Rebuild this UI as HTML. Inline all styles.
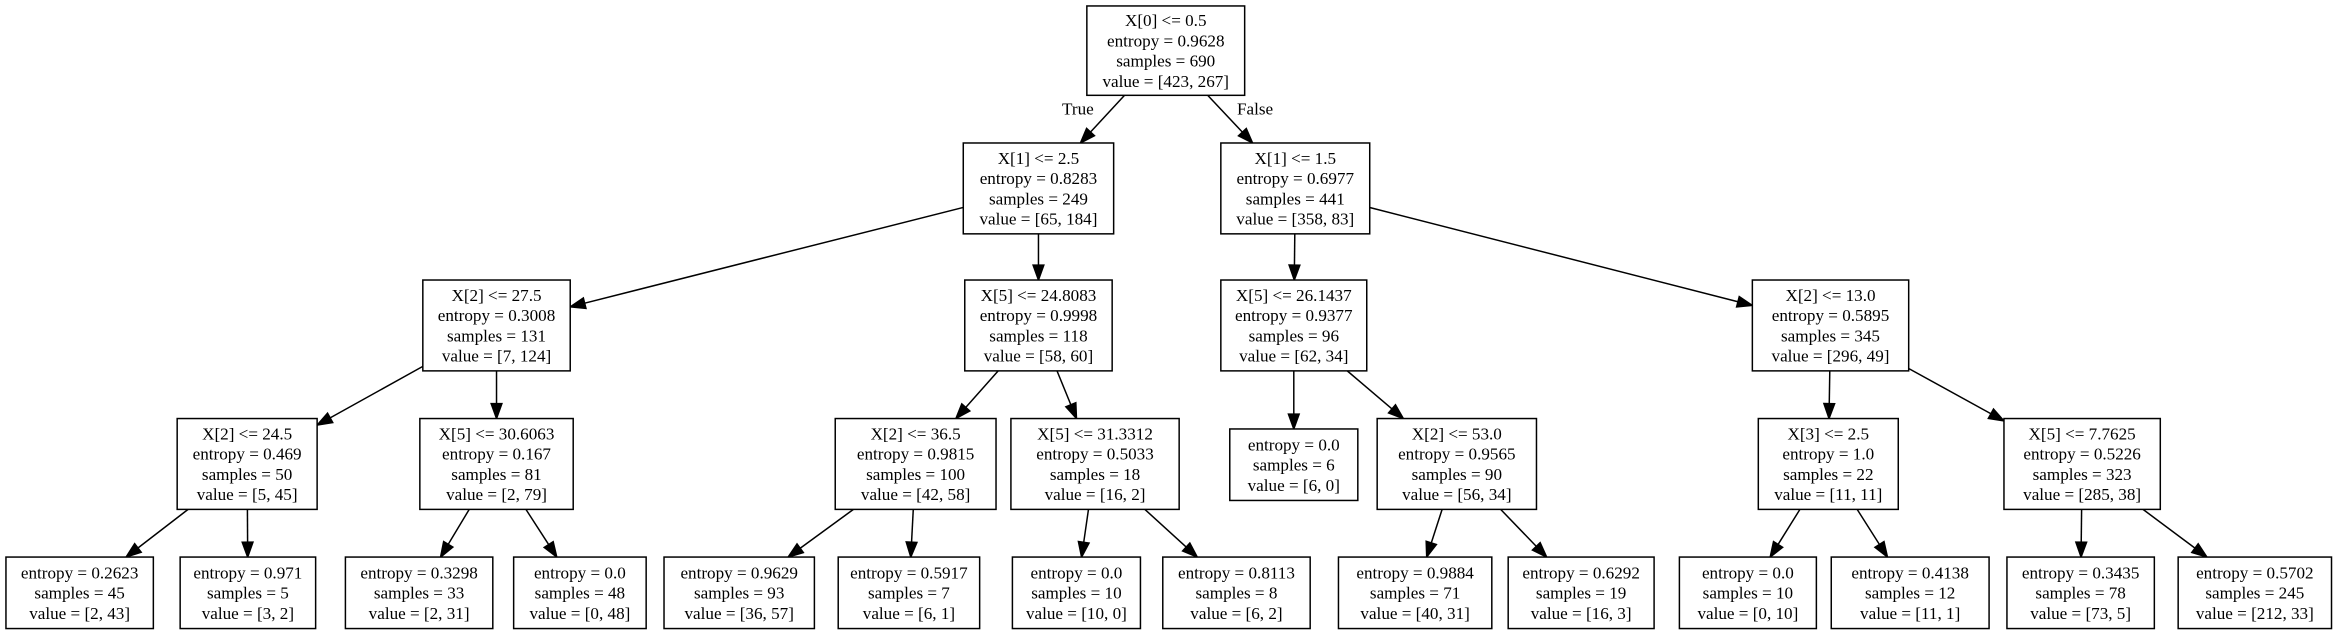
<!DOCTYPE html>
<html><head><meta charset="utf-8"><style>
html,body{margin:0;padding:0;background:#fff;width:2333px;height:636px;overflow:hidden}
svg{display:block}
text{font-family:"Liberation Serif",serif;font-size:11.5px;fill:#000}
</style></head><body>
<svg id="s" width="2333" height="636" viewBox="0 0 1567 427" preserveAspectRatio="none" xmlns="http://www.w3.org/2000/svg"></svg>
<script>
var N={
r:[730,836,4,64,["X[0] <= 0.5","entropy = 0.9628","samples = 690","value = [423, 267]"]],
a:[647,748,96,157,["X[1] <= 2.5","entropy = 0.8283","samples = 249","value = [65, 184]"]],
b:[820,920,96,157,["X[1] <= 1.5","entropy = 0.6977","samples = 441","value = [358, 83]"]],
a1:[284,383,188,249,["X[2] <= 27.5","entropy = 0.3008","samples = 131","value = [7, 124]"]],
a2:[648,747,188,249,["X[5] <= 24.8083","entropy = 0.9998","samples = 118","value = [58, 60]"]],
b1:[820,918,188,249,["X[5] <= 26.1437","entropy = 0.9377","samples = 96","value = [62, 34]"]],
b2:[1177,1282,188,249,["X[2] <= 13.0","entropy = 0.5895","samples = 345","value = [296, 49]"]],
c1:[119,213,281,342,["X[2] <= 24.5","entropy = 0.469","samples = 50","value = [5, 45]"]],
c2:[282,385,281,342,["X[5] <= 30.6063","entropy = 0.167","samples = 81","value = [2, 79]"]],
c3:[561,669,281,342,["X[2] <= 36.5","entropy = 0.9815","samples = 100","value = [42, 58]"]],
c4:[679,792,281,342,["X[5] <= 31.3312","entropy = 0.5033","samples = 18","value = [16, 2]"]],
c5:[826,912,288,336,["entropy = 0.0","samples = 6","value = [6, 0]"]],
c6:[925,1032,281,342,["X[2] <= 53.0","entropy = 0.9565","samples = 90","value = [56, 34]"]],
c7:[1181,1275,281,342,["X[3] <= 2.5","entropy = 1.0","samples = 22","value = [11, 11]"]],
c8:[1346,1451,281,342,["X[5] <= 7.7625","entropy = 0.5226","samples = 323","value = [285, 38]"]],
d1:[4,103,374,422,["entropy = 0.2623","samples = 45","value = [2, 43]"]],
d2:[121,212,374,422,["entropy = 0.971","samples = 5","value = [3, 2]"]],
d3:[232,331,374,422,["entropy = 0.3298","samples = 33","value = [2, 31]"]],
d4:[345,434,374,422,["entropy = 0.0","samples = 48","value = [0, 48]"]],
d5:[446,547,374,422,["entropy = 0.9629","samples = 93","value = [36, 57]"]],
d6:[563,658,374,422,["entropy = 0.5917","samples = 7","value = [6, 1]"]],
d7:[680,766,374,422,["entropy = 0.0","samples = 10","value = [10, 0]"]],
d8:[781,880,374,422,["entropy = 0.8113","samples = 8","value = [6, 2]"]],
d9:[899,1002,374,422,["entropy = 0.9884","samples = 71","value = [40, 31]"]],
d10:[1013,1111,374,422,["entropy = 0.6292","samples = 19","value = [16, 3]"]],
d11:[1128,1220,374,422,["entropy = 0.0","samples = 10","value = [0, 10]"]],
d12:[1230,1336,374,422,["entropy = 0.4138","samples = 12","value = [11, 1]"]],
d13:[1348,1447,374,422,["entropy = 0.3435","samples = 78","value = [73, 5]"]],
d14:[1463,1566,374,422,["entropy = 0.5702","samples = 245","value = [212, 33]"]]
};
var E=[["r","a"],["r","b"],["a","a1"],["a","a2"],["b","b1"],["b","b2"],["a1","c1"],["a1","c2"],["a2","c3"],["a2","c4"],["b1","c5"],["b1","c6"],["b2","c7"],["b2","c8"],
["c1","d1"],["c1","d2"],["c2","d3"],["c2","d4"],["c3","d5"],["c3","d6"],["c4","d7"],["c4","d8"],["c6","d9"],["c6","d10"],["c7","d11"],["c7","d12"],["c8","d13"],["c8","d14"]];
var h="";
function ctr(n){return [(n[0]+n[1])/2,(n[2]+n[3])/2];}
function clip(n,dx,dy){var hw=(n[1]-n[0])/2,hh=(n[3]-n[2])/2;var tx=dx?hw/Math.abs(dx):1e9,ty=dy?hh/Math.abs(dy):1e9;return Math.min(tx,ty);}
E.forEach(function(e){var p=N[e[0]],c=N[e[1]];var P=ctr(p),C=ctr(c);var dx=C[0]-P[0],dy=C[1]-P[1];
var t1=clip(p,dx,dy),t2=clip(c,dx,dy);var x1=P[0]+dx*t1,y1=P[1]+dy*t1,x2=C[0]-dx*t2,y2=C[1]-dy*t2;
var L=Math.hypot(x2-x1,y2-y1),ux=(x2-x1)/L,uy=(y2-y1)/L;var al=10,aw=3.6;var bx=x2-ux*al,by=y2-uy*al;
h+='<line x1="'+x1+'" y1="'+y1+'" x2="'+bx+'" y2="'+by+'" stroke="#000" stroke-width="1"/>';
h+='<polygon points="'+x2+','+y2+' '+(bx-uy*aw)+','+(by+ux*aw)+' '+(bx+uy*aw)+','+(by-ux*aw)+'" fill="#000" stroke="#000" stroke-width="1"/>';});
for(var k in N){var n=N[k];h+='<rect x="'+n[0]+'" y="'+n[2]+'" width="'+(n[1]-n[0])+'" height="'+(n[3]-n[2])+'" fill="#fff" stroke="#000" stroke-width="1"/>';
var L=n[4],cy=(n[2]+n[3])/2,cx=(n[0]+n[1])/2,sp=13.6;
L.forEach(function(s,i){var y=cy+(i-(L.length-1)/2)*sp+3.9;h+='<text x="'+cx+'" y="'+y+'" text-anchor="middle">'+s.replace(/</g,"&lt;")+'</text>';});}
h+='<text x="724" y="77" text-anchor="middle">True</text><text x="843" y="77" text-anchor="middle">False</text>';
document.getElementById("s").innerHTML=h;
</script>
</body></html>
